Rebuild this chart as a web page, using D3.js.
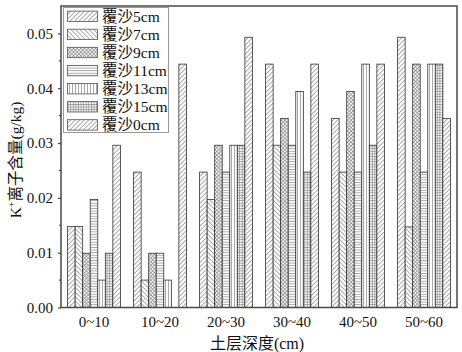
<!DOCTYPE html>
<html><head><meta charset="utf-8">
<script src="https://cdn.jsdelivr.net/npm/d3@7/dist/d3.min.js"></script>
<style>body{margin:0;background:#fff}svg{display:block}</style>
</head><body><svg id="c" width="462" height="352"></svg>
<script>
const categories = ["0~10","10~20","20~30","30~40","40~50","50~60"];
const seriesNames = ["覆沙5cm","覆沙7cm","覆沙9cm","覆沙11cm","覆沙13cm","覆沙15cm","覆沙0cm"];
const s5  = [0.0148,0.0247,0.0247,0.0444,0.0345,0.0493];
const s7  = [0.0148,0.0050,0.0197,0.0296,0.0247,0.0147];
const s9  = [0.0099,0.0099,0.0296,0.0345,0.0394,0.0444];
const s11 = [0.0197,0.0099,0.0247,0.0296,0.0247,0.0247];
const s13 = [0.0050,0.0050,0.0296,0.0394,0.0444,0.0444];
const s15 = [0.0099,0.0000,0.0296,0.0247,0.0296,0.0444];
const s0  = [0.0296,0.0444,0.0493,0.0444,0.0444,0.0345];
const yTicks = [0,0.01,0.02,0.03,0.04,0.05];
const yMinorTicks = [0.005,0.015,0.025,0.035,0.045];
const seriesValues = [s5,s7,s9,s11,s13,s15,s0];
const patternIds = ["p5","p7","p9","p11","p13","p15","p0"];

const FONT = "'Liberation Serif','Times New Roman','Noto Sans CJK SC',serif";
const svg = d3.select("#c");
const L = 61, R = 457, T = 6, B = 307.5;

// patterns
const defs = svg.append("defs");
const lineCol = "#7a7a7a", lw = 0.65;
function linePattern(id, size, rot, both){
  const p = defs.append("pattern").attr("id", id).attr("patternUnits","userSpaceOnUse")
    .attr("width", size).attr("height", size);
  if (rot !== 0) p.attr("patternTransform", `rotate(${rot})`);
  p.append("rect").attr("width", size).attr("height", size).attr("fill", "#fff");
  p.append("line").attr("x1", 0.5).attr("y1", 0).attr("x2", 0.5).attr("y2", size)
    .attr("stroke", lineCol).attr("stroke-width", lw);
  if (both) p.append("line").attr("x1", 0).attr("y1", 0.5).attr("x2", size).attr("y2", 0.5)
    .attr("stroke", lineCol).attr("stroke-width", lw);
}
linePattern("p5", 3.2, 45, false);
linePattern("p7", 3.2, -45, false);
linePattern("p9", 2.6, 45, true);
linePattern("p11", 2.6, 90, false);
linePattern("p13", 3.0, 0, false);
linePattern("p15", 2.6, 0, true);
linePattern("p0", 3.2, 45, false);

const x0 = d3.scaleBand().domain(categories).range([L, R]).paddingInner(0.2).paddingOuter(0.1);
const x1 = d3.scaleBand().domain(seriesNames).range([0, x0.bandwidth()]);
const y = d3.scaleLinear().domain([0, 0.055]).range([B, T]);

// bars
const g = svg.append("g");
categories.forEach((c, ci) => {
  seriesNames.forEach((s, si) => {
    const v = seriesValues[si][ci];
    if (v <= 0) return;
    g.append("rect")
      .attr("x", x0(c) + x1(s))
      .attr("y", y(v))
      .attr("width", x1.bandwidth())
      .attr("height", y(0) - y(v))
      .attr("fill", `url(#${patternIds[si]})`)
      .attr("stroke", "#333").attr("stroke-width", 0.8);
  });
});

// y axis
const yAxis = svg.append("g").attr("transform", `translate(${L},0)`)
  .call(d3.axisLeft(y).tickValues(yTicks).tickFormat(d3.format(".2f")).tickSize(3).tickPadding(5));
yAxis.select(".domain").remove();
yAxis.selectAll("text").attr("font-family", FONT).attr("font-size", 15).attr("fill", "#111");
yAxis.selectAll("line").attr("stroke", "#444").attr("stroke-width", 1.2);
svg.append("g").selectAll("line").data(yMinorTicks).join("line")
  .attr("x1", L - 2).attr("x2", L).attr("y1", d => y(d)).attr("y2", d => y(d))
  .attr("stroke", "#444").attr("stroke-width", 1.2);

// x axis labels
const xAxis = svg.append("g").attr("transform", `translate(0,${B})`)
  .call(d3.axisBottom(x0).tickSize(0).tickPadding(9));
xAxis.select(".domain").remove();
xAxis.selectAll("text").attr("font-family", FONT).attr("font-size", 15).attr("fill", "#111");

// frame
svg.append("rect").attr("x", L).attr("y", T).attr("width", R - L).attr("height", B - T)
  .attr("fill", "none").attr("stroke", "#4a4a4a").attr("stroke-width", 1.5);

// axis titles
svg.append("text").attr("x", 257).attr("y", 349).attr("text-anchor", "middle")
  .attr("font-family", FONT).attr("font-size", 16).attr("fill", "#111").text("土层深度(cm)");
const yt = svg.append("text").attr("transform", "translate(21,160) rotate(-90)")
  .attr("text-anchor", "middle").attr("font-family", FONT).attr("font-size", 15.5).attr("fill", "#111");
yt.append("tspan").text("K");
yt.append("tspan").attr("font-size", 10).attr("dy", -6).text("+");
yt.append("tspan").attr("dy", 6).text("离子含量(g/kg)");

// legend
const lg = svg.append("g");
lg.append("rect").attr("x", 63.5).attr("y", 7.5).attr("width", 105).attr("height", 125)
  .attr("fill", "#fff").attr("stroke", "#999").attr("stroke-width", 1);
seriesNames.forEach((s, i) => {
  const cy = 16.3 + i * 18.1;
  lg.append("rect").attr("x", 67.5).attr("y", cy - 5.2).attr("width", 30).attr("height", 10.4)
    .attr("fill", `url(#${patternIds[i]})`).attr("stroke", "#555").attr("stroke-width", 0.8);
  lg.append("text").attr("x", 102).attr("y", cy + 5.5).attr("font-family", FONT)
    .attr("font-size", 15.5).attr("fill", "#111").text(s);
});
</script></body></html>
